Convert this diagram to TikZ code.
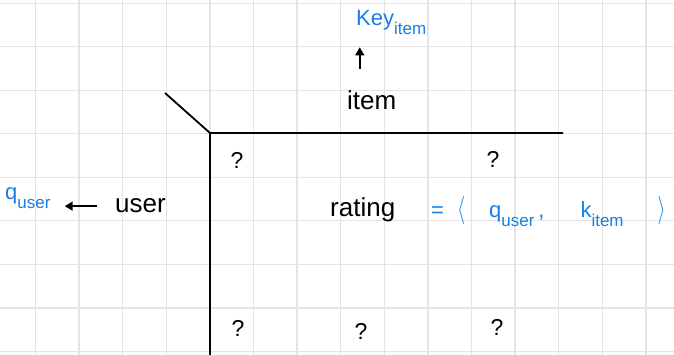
\documentclass[tikz,border=0pt]{standalone}
\usepackage{fontspec}
\setmainfont{Liberation Sans}
\usetikzlibrary{arrows.meta, positioning}
\definecolor{inkblue}{RGB}{22,128,232}
\definecolor{gridgray}{RGB}{228,228,228}
\newcommand{\lowtxt}[1]{\raisebox{-9pt}{\fontsize{17}{17}\selectfont #1}}
\newcommand{\tallbr}[1]{\scalebox{1}[1.35]{$#1$}}

\begin{document}
\begin{tikzpicture}[
  x=1pt, y=-1pt,
  word/.style  = {inner sep=0pt, font=\fontsize{26}{28}\selectfont},
  note/.style  = {inner sep=0pt, text=inkblue, font=\fontsize{22}{24}\selectfont},
  qmark/.style = {inner sep=0pt, font=\fontsize{23}{25}\selectfont},
  gridline/.style = {gridgray, line width=1.4pt},
  axis/.style  = {line width=1.8pt},
  arr/.style   = {-{Triangle[length=8pt,width=9pt]}, line width=1.6pt}
]
\useasboundingbox[fill=white] (0,0) rectangle (674,355);
% grid paper
\foreach \i in {0,...,14}
  \draw[gridline] (35.4+43.6*\i,0) -- (35.4+43.6*\i,355);
\foreach \j in {0,...,8}
  \draw[gridline] (0,3.3+43.5*\j) -- (674,3.3+43.5*\j);
% table lines
\coordinate (corner) at (210,133);
\draw[axis] (165,93) -- (corner) -- (563,133);
\draw[axis] (corner) -- (210,355);
% labels
\node[note, anchor=base west] (key) at (356,26) {Key\lowtxt{item}};
\node[word, anchor=base west] (item) at (347,110) {item};
\node[word, anchor=base west] (user) at (115,213) {user};
\node[note, anchor=base west] (quser) at (5,200) {q\lowtxt{user}};
\node[word, anchor=base west] (rating) at (330,217) {rating};
\node[note, anchor=base west] (score) at (431,218)
  {=\hspace{13pt}\tallbr{\langle}\hspace{24pt}q\lowtxt{user}\hspace{4pt},\hspace{36pt}k\lowtxt{item}\hspace{34pt}\tallbr{\rangle}};
% question marks
\node[qmark] (q1) at (237,160) {?};
\node[qmark] (q2) at (493,159) {?};
\node[qmark] (q3) at (238,328) {?};
\node[qmark] (q4) at (361,331) {?};
\node[qmark] (q5) at (497,327) {?};
% arrows
\draw[arr, shorten <=22pt, shorten >=12pt]
  ([xshift=-12pt]item.north) -- ([xshift=-12pt]item.north |- key.south);
\draw[arr, shorten <=18pt, shorten >=14pt]
  (user.west) -- (user.west -| quser.east);
\end{tikzpicture}
\end{document}
